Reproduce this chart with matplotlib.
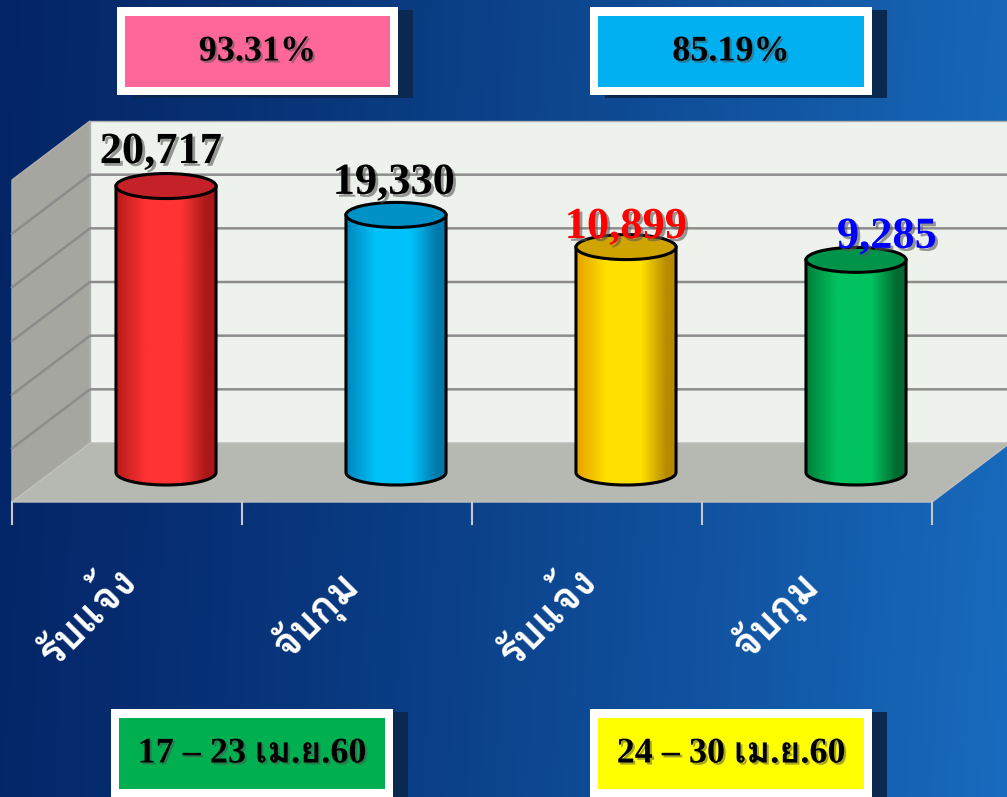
import numpy as np
import matplotlib
matplotlib.use("Agg")
import matplotlib.pyplot as plt
from matplotlib import font_manager, patheffects
from matplotlib.ft2font import FT2Font
from matplotlib.patches import Polygon, Rectangle, Ellipse
from matplotlib.transforms import IdentityTransform
from matplotlib.colors import LinearSegmentedColormap, to_rgb

# ---- data ----
categories = ["รับแจ้ง", "จับกุม", "รับแจ้ง", "จับกุม"]
value_labels = ["20,717", "19,330", "10,899", "9,285"]
bar_heights = [21350, 19200, 16800, 15850]  # heights as drawn in the source chart
percents = ["93.31%", "85.19%"]
periods = ["17 – 23 เม.ย.60", "24 – 30 เม.ย.60"]
y_ticks = [0, 4000, 8000, 12000, 16000, 20000, 24000]

# ---- styles ----
bar_colors = [  # dark edge, bright, dark edge, top
    ("#b81a1a", "#ff3333", "#a81818", "#c42228"),
    ("#0086bd", "#00c2fa", "#0079aa", "#0091c6"),
    ("#e6a200", "#ffe000", "#b88a00", "#cfa400"),
    ("#007e3a", "#00c25e", "#006a30", "#00934a"),
]
label_colors = ["black", "black", "#ff0000", "#0000ff"]
label_offsets = [(-5, 23), (-2, 21), (0, 9), (31, 12)]

preferred = ["Noto Serif Thai", "Noto Sans Thai Looped", "Norasi", "Kinnari",
             "Laksaman", "Garuda", "Loma", "Noto Sans Thai"]


def find_thai_font():
    found = []
    for f in font_manager.fontManager.ttflist:
        try:
            if 0x0E23 in FT2Font(f.fname).get_charmap():
                found.append(f)
        except Exception:
            pass
    if not found:
        return "DejaVu Sans"

    def rank(f):
        p = preferred.index(f.name) if f.name in preferred else len(preferred)
        return (f.weight not in (700, "bold"), p, f.style != "normal")
    found.sort(key=rank)
    return found[0].name


thai = find_thai_font()
serif = ["Liberation Serif", thai, "DejaVu Serif"]

W, H = 1007, 797
fig = plt.figure(figsize=(W / 100, H / 100), dpi=100)

# background
bg = fig.add_axes([0, 0, 1, 1], zorder=0)
bg.set_axis_off()
c0, c1 = np.array(to_rgb("#04276a")), np.array(to_rgb("#186bbf"))
t = np.linspace(0, 1, 400) ** 1.2
grad = c0[None, :] * (1 - t[:, None]) + c1[None, :] * t[:, None]
vert = np.linspace(0.96, 1.0, 100)
img = grad[None, :, :] * vert[:, None, None]
bg.imshow(img, extent=(0, W, H, 0), aspect="auto")
bg.set_xlim(0, W)
bg.set_ylim(H, 0)

# chart axes at mid depth of the floor
ax = fig.add_axes([51 / W, 324.5 / H, 920 / W, 322 / H], zorder=1)
ax.set_xlim(-0.5, 3.5)
ax.set_ylim(0, 24000)
ax.set_axis_off()
ax.patch.set_visible(False)

DX, DY = 78, 59  # full depth in pixels
ident = IdentityTransform()


def proj(x, v, d):
    px, py = ax.transData.transform((x, v))
    return px + d * DX, py + d * DY


def poly(pts, **kw):
    p = Polygon(pts, closed=True, transform=ident, clip_on=False, **kw)
    ax.add_patch(p)


x0, x1 = -0.5, 3.5
top = y_ticks[-1]
# back wall
poly([proj(x0, 0, .5), proj(x1, 0, .5), proj(x1, top, .5), proj(x0, top, .5)],
     facecolor="#eef2ec", edgecolor="#b0b0b0", lw=1, zorder=1)
# left wall
poly([proj(x0, 0, .5), proj(x0, 0, -.5), proj(x0, top, -.5), proj(x0, top, .5)],
     facecolor="#a4a69f", edgecolor="#b0b0b0", lw=1, zorder=1)
# floor
poly([proj(x0, 0, .5), proj(x1, 0, .5), proj(x1, 0, -.5), proj(x0, 0, -.5)],
     facecolor="#b6b8b2", edgecolor="#c0c0c0", lw=1, zorder=1)

# gridlines
for v in y_ticks[1:-1]:
    a, b, c = proj(x0, v, -.5), proj(x0, v, .5), proj(x1, v, .5)
    ax.plot([a[0], b[0], c[0]], [a[1], b[1], c[1]], color="#8c8c8c", lw=1.8,
            transform=ident, clip_on=False, zorder=2)

# ticks on the front edge
for k in np.arange(x0, x1 + 0.01, 1.0):
    a = proj(k, 0, -.5)
    ax.plot([a[0], a[0]], [a[1], a[1] - 22], color="#c8c8c8", lw=1.5,
            transform=ident, clip_on=False, zorder=2)

# cylinders
bw = 0.435
eh = 25 / 322 * top
tt = np.linspace(np.pi, 2 * np.pi, 60)
for i, h in enumerate(bar_heights):
    dark, bright, dark2, topc = bar_colors[i]
    verts = list(zip(i + bw / 2 * np.cos(tt), eh / 2 * np.sin(tt)))
    verts += [(i + bw / 2, h), (i - bw / 2, h)]
    body = Polygon(verts, closed=True, facecolor="none", edgecolor="black", lw=2.2,
                   zorder=5, clip_on=False)
    ax.add_patch(body)
    cmap = LinearSegmentedColormap.from_list(
        "c%d" % i, [(0, dark), (0.3, bright), (0.65, bright), (0.9, dark2), (1, dark2)])
    im = ax.imshow(np.linspace(0, 1, 200)[None, :], cmap=cmap, aspect="auto",
                   extent=(i - bw / 2, i + bw / 2, -eh / 2, h), zorder=4)
    im.set_clip_box(fig.bbox)
    im.set_clip_path(body)
    ax.add_patch(Ellipse((i, h), bw, eh, facecolor=topc, edgecolor="black", lw=2.2,
                         zorder=6, clip_on=False))

    dx, dy = label_offsets[i]
    ax.annotate(value_labels[i], (i, h), xytext=(dx, dy), textcoords="offset pixels",
                ha="center", va="baseline", fontsize=32, fontweight="bold",
                family=serif, color=label_colors[i], zorder=8, annotation_clip=False,
                path_effects=[patheffects.withSimplePatchShadow(offset=(2, -2), shadow_rgbFace="0.35", alpha=0.6)])

    ax.annotate(categories[i], (i, 0), xytext=(-41 - 39, -113 - 29.5), textcoords="offset pixels",
                ha="center", va="center", rotation=45, rotation_mode="anchor",
                fontsize=30, fontweight="bold", family=[thai], color="white",
                annotation_clip=False, zorder=8)

ax.set_xlim(-0.5, 3.5)
ax.set_ylim(0, 24000)

# boxes
fg = fig.add_axes([0, 0, 1, 1], zorder=2)
fg.set_axis_off()
fg.patch.set_visible(False)
fg.set_xlim(0, W)
fg.set_ylim(H, 0)


def box(x, y, w, h, color, text):
    fg.add_patch(Rectangle((x + 15, y + 3), w, h, facecolor="#0a2850", edgecolor="none"))
    fg.add_patch(Rectangle((x, y), w, h, facecolor="white", edgecolor="none"))
    fg.add_patch(Rectangle((x + 8, y + 8.5), w - 16, h - 17, facecolor=color, edgecolor="none"))
    fg.text(x + w / 2, y + h / 2 + 1, text, ha="center", va="center", fontsize=26,
            fontweight="bold", family=serif, color="black",
            path_effects=[patheffects.withSimplePatchShadow(offset=(1.5, -1.5), shadow_rgbFace="0.3", alpha=0.5)])


box(117, 7, 281, 88, "#ff6699", percents[0])
box(590, 7, 282, 88, "#00b0f0", percents[1])
box(111, 709, 282, 88, "#00b050", periods[0])
box(590, 709, 282, 88, "#ffff00", periods[1])

fig.savefig("out.png", dpi=100)
